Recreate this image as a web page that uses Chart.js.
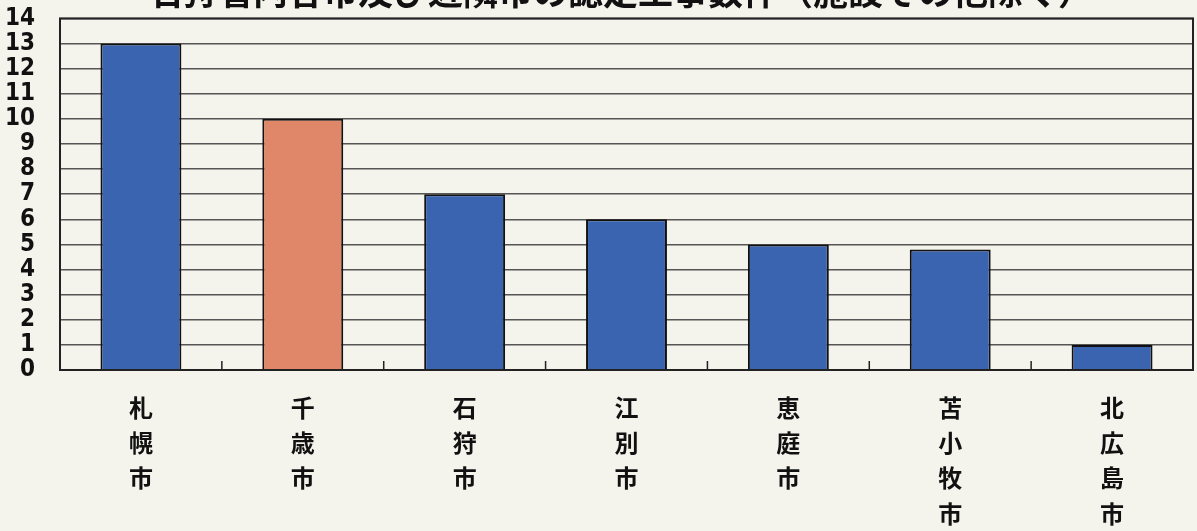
<!DOCTYPE html>
<html>
<head>
<meta charset="utf-8">
<script src="https://cdn.jsdelivr.net/npm/chart.js@4.4.1/dist/chart.umd.min.js"></script>
<style>
  html, body { margin: 0; padding: 0; background: #f4f3ec; overflow: hidden; }
  #wrap { width: 1197px; height: 531px; overflow: hidden; }
  #myChart { display: block; margin-top: -21px; }
</style>
</head>
<body>
<div id="wrap"><canvas id="myChart" width="1197" height="552"></canvas></div>
<script>
const cities = [['札','幌','市'], ['千','歳','市'], ['石','狩','市'], ['江','別','市'], ['恵','庭','市'], ['苫','小','牧','市'], ['北','広','島','市']];
const counts = [13, 10, 7, 6, 5, 4.8, 1];
const barColors = ['#3a64b0', '#e0876a', '#3a64b0', '#3a64b0', '#3a64b0', '#3a64b0', '#3a64b0'];
const yTicks = [0, 1, 2, 3, 4, 5, 6, 7, 8, 9, 10, 11, 12, 13, 14];
const titleText = '石狩管内各市及び近隣市の認定工事数件（施設その他除く）';

// paper background, frame, small category ticks and the clipped title
const paperPlugin = {
    id: 'paper',
    beforeDraw(chart) {
        const ctx = chart.ctx;
        ctx.save();
        ctx.fillStyle = '#f4f3ec';
        ctx.fillRect(0, 0, chart.width, chart.height);
        ctx.restore();
    },
    afterDraw(chart) {
        const ctx = chart.ctx;
        const a = chart.chartArea;
        const x = chart.scales.x;
        ctx.save();
        ctx.strokeStyle = '#222';
        ctx.lineWidth = 2;
        ctx.strokeRect(a.left, a.top, a.right - a.left, a.bottom - a.top);
        ctx.lineWidth = 1.5;
        for (let i = 1; i < cities.length; i++) {
            const bx = (x.getPixelForValue(i - 1) + x.getPixelForValue(i)) / 2;
            ctx.beginPath();
            ctx.moveTo(bx, a.bottom);
            ctx.lineTo(bx, a.bottom - 9);
            ctx.stroke();
        }
        ctx.fillStyle = '#111';
        ctx.font = 'bold 35px "Noto Sans CJK JP"';
        ctx.textAlign = 'left';
        ctx.textBaseline = 'alphabetic';
        ctx.fillText(titleText, 148, a.top - 13);
        ctx.restore();
    }
};

window.onload = function() {
    const ctx = document.getElementById('myChart').getContext('2d');
    new Chart(ctx, {
        type: 'bar',
        data: {
            labels: cities,
            datasets: [{
                data: counts,
                backgroundColor: barColors,
                borderColor: '#111',
                borderWidth: 2,
                barPercentage: 1,
                categoryPercentage: 0.5
            }]
        },
        options: {
            responsive: false,
            animation: false,
            layout: { autoPadding: false, padding: { top: 17, right: 4, left: 0, bottom: 0 } },
            plugins: { legend: { display: false }, tooltip: { enabled: false } },
            scales: {
                x: {
                    grid: { display: false },
                    border: { display: false },
                    ticks: {
                        color: '#111',
                        padding: 12,
                        autoSkip: false,
                        maxRotation: 0,
                        font: { family: '"Noto Sans CJK JP"', size: 24, weight: 'bold', lineHeight: 1.47 }
                    },
                    afterFit(scale) { scale.height = 161; }
                },
                y: {
                    min: 0,
                    max: 14,
                    afterBuildTicks(scale) { scale.ticks = yTicks.map(v => ({ value: v })); },
                    grid: { color: '#555', lineWidth: 1.5, drawTicks: false },
                    border: { display: false },
                    ticks: {
                        color: '#111',
                        padding: 25,
                        autoSkip: false,
                        font: { family: '"DejaVu Sans Condensed", "Liberation Sans"', size: 24, weight: 'bold' }
                    },
                    afterFit(scale) { scale.width = 60; }
                }
            }
        },
        plugins: [paperPlugin]
    });
};
</script>
</body>
</html>
